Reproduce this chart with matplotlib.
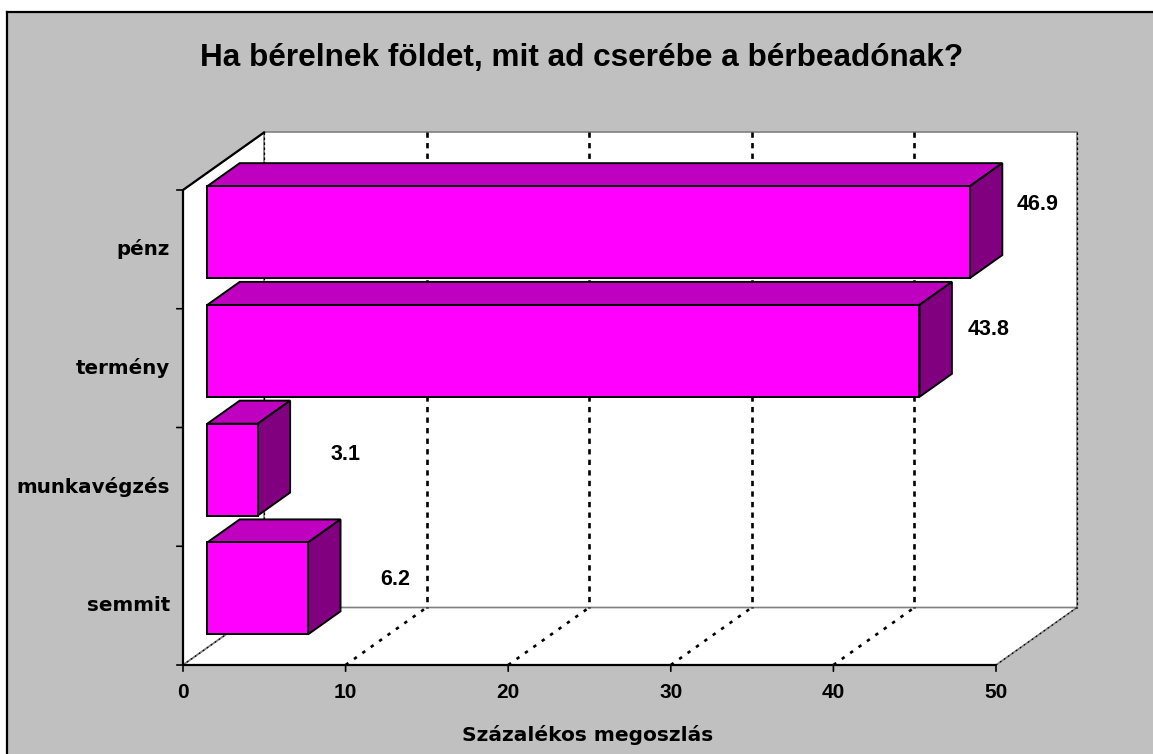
import matplotlib
matplotlib.use("Agg")
import matplotlib.pyplot as plt
from matplotlib.patches import Polygon, Rectangle
from matplotlib.lines import Line2D

# ---- data ----
categories = ["pénz", "termény", "munkavégzés", "semmit"]
values = [46.9, 43.8, 3.1, 6.2]
value_labels = ["46.9", "43.8", "3.1", "6.2"]
x_ticks = [0, 10, 20, 30, 40, 50]
x_tick_labels = ["0", "10", "20", "30", "40", "50"]
title = "Ha bérelnek földet, mit ad cserébe a bérbeadónak?"
x_label = "Százalékos megoszlás"

# ---- style / geometry ----
W, H = 1153, 754
PX = (996 - 183) / 50.0      # pixels per value unit
PY = (665 - 190) / 4.0       # pixels per category unit
X0PX, YTOPPX = 183, 190
DX = 81 / PX                  # depth offset (value units)
DY = 57.5 / PY                # depth offset (category units)
D0, D1 = 0.3, 0.7             # bar depth range
HALF = 0.387                  # half bar height (category units)
FRONT = "#FF00FF"
TOP = "#C000C0"
SIDE = "#800080"
GREY_BG = "#C0C0C0"
EDGE_GREY = "#808080"
SANS = "Liberation Sans"
WIDE = "DejaVu Sans"

fig = plt.figure(figsize=(W / 100, H / 100), dpi=100, facecolor="white")
ax = fig.add_axes([0, 0, 1, 1])
ax.set_facecolor("none")
ax.set_xlim(-X0PX / PX, (W - X0PX) / PX)
ax.set_ylim(3.5 + (H - 665) / PY, -0.5 - YTOPPX / PY)
ax.axis("off")

# chart area background with border (top/left visible)
ax.add_patch(Rectangle((7 / W, 0), 1 - 7 / W + 0.01, 1 - 12 / H,
                       transform=fig.transFigure, facecolor=GREY_BG,
                       edgecolor="none", zorder=0, clip_on=False))
ax.add_line(Line2D([7 / W, 7 / W], [0, 1 - 12 / H], transform=fig.transFigure,
                   color="black", lw=1.6, zorder=0.5, clip_on=False))
ax.add_line(Line2D([7 / W, 1.0], [1 - 12 / H, 1 - 12 / H], transform=fig.transFigure,
                   color="black", lw=1.6, zorder=0.5, clip_on=False))

n = len(categories)
ylo, yhi = -0.5, n - 0.5
xmin, xmax = x_ticks[0], x_ticks[-1]

# walls and floor
back = Polygon([(xmin + DX, ylo - DY), (xmax + DX, ylo - DY), (xmax + DX, yhi - DY),
                (xmin + DX, yhi - DY)], closed=True, facecolor="white",
               edgecolor=EDGE_GREY, lw=1.2, zorder=1)
left = Polygon([(xmin, ylo), (xmin + DX, ylo - DY), (xmin + DX, yhi - DY), (xmin, yhi)],
               closed=True, facecolor="white", edgecolor=EDGE_GREY, lw=1.2, zorder=1)
floor = Polygon([(xmin, yhi), (xmax, yhi), (xmax + DX, yhi - DY), (xmin + DX, yhi - DY)],
                closed=True, facecolor="white", edgecolor=EDGE_GREY, lw=1.2, zorder=1)
for p in (back, left, floor):
    ax.add_patch(p)

# gridlines
for v in x_ticks:
    edge = v in (xmin, xmax)
    lw = 0.9 if edge else 1.9
    ax.plot([v + DX, v + DX], [ylo - DY, yhi - DY], color="black", lw=lw,
            ls=(0, (2, 2)), zorder=2)
    ax.plot([v, v + DX], [yhi, yhi - DY], color="black", lw=lw,
            ls=(0, (1.3, 2.6)), zorder=2)

# axis lines
ax.plot([xmin, xmax], [yhi, yhi], color="black", lw=1.6, zorder=2, solid_capstyle="butt")
ax.plot([xmin, xmin], [ylo, yhi], color="black", lw=1.6, zorder=2, solid_capstyle="butt")
ax.plot([xmin, xmin + DX], [ylo, ylo - DY], color="black", lw=1.6, zorder=2)

# ticks
for v, lab in zip(x_ticks, x_tick_labels):
    ax.annotate("", xy=(v, yhi), xytext=(0, -4.5), textcoords="offset points",
                arrowprops=dict(arrowstyle="-", color="black", lw=1.2, shrinkA=0, shrinkB=0))
    ax.annotate(lab, xy=(v, yhi), xytext=(0, -20), textcoords="offset points",
                ha="center", va="center", fontsize=15, fontweight="bold",
                family=SANS, color="black")
for k in range(n + 1):
    ax.annotate("", xy=(xmin, ylo + k), xytext=(-4.5, 0), textcoords="offset points",
                arrowprops=dict(arrowstyle="-", color="black", lw=1.2, shrinkA=0, shrinkB=0))

# category labels
for i, c in enumerate(categories):
    ax.annotate(c, xy=(xmin, i), xytext=(-9.5, 0), textcoords="offset points",
                ha="right", va="center", fontsize=14.3, fontweight="bold",
                family=WIDE, color="black")

# 3D bars
for i, v in enumerate(values):
    y0, y1 = i - HALF, i + HALF
    z = 5 + i
    front = Polygon([(D0 * DX, y0 - D0 * DY), (v + D0 * DX, y0 - D0 * DY),
                     (v + D0 * DX, y1 - D0 * DY), (D0 * DX, y1 - D0 * DY)],
                    closed=True, facecolor=FRONT, edgecolor="black", lw=1.4,
                    joinstyle="miter", zorder=z)
    top = Polygon([(D0 * DX, y0 - D0 * DY), (v + D0 * DX, y0 - D0 * DY),
                   (v + D1 * DX, y0 - D1 * DY), (D1 * DX, y0 - D1 * DY)],
                  closed=True, facecolor=TOP, edgecolor="black", lw=1.4,
                  joinstyle="miter", zorder=z)
    side = Polygon([(v + D0 * DX, y0 - D0 * DY), (v + D1 * DX, y0 - D1 * DY),
                    (v + D1 * DX, y1 - D1 * DY), (v + D0 * DX, y1 - D0 * DY)],
                   closed=True, facecolor=SIDE, edgecolor="black", lw=1.4,
                   joinstyle="miter", zorder=z)
    for p in (top, side, front):
        ax.add_patch(p)

# value labels
LX0, LXK, LY0, LYK = (297 - X0PX) / PX, 15.8 / PX, -0.374, 1.05
for i, (v, lab) in enumerate(zip(values, value_labels)):
    ax.text(LX0 + LXK * v, LY0 + LYK * i, lab, ha="center", va="center",
            fontsize=15.5, fontweight="bold", family=SANS, color="black", zorder=20)

# title and axis label
ax.text(582 / W, 1 - 58 / H, title, transform=fig.transFigure, ha="center",
        va="center", fontsize=22.7, fontweight="bold", family=SANS, color="black")
ax.text(588 / W, 1 - 735 / H, x_label, transform=fig.transFigure, ha="center",
        va="center", fontsize=14.5, fontweight="bold", family=WIDE, color="black")

fig.savefig("out.png", dpi=100, facecolor=fig.get_facecolor())
